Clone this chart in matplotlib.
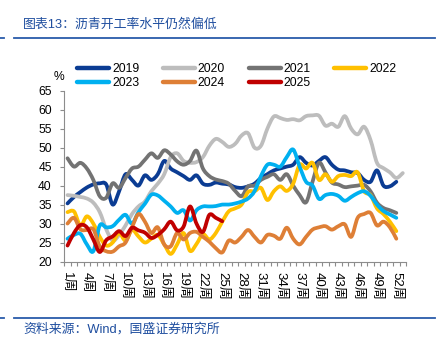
import numpy as np
import matplotlib
matplotlib.use("Agg")
import matplotlib.pyplot as plt
from matplotlib.path import Path
from matplotlib.patches import PathPatch
from matplotlib.lines import Line2D

plt.rcParams['font.family'] = ['Liberation Sans', 'Noto Sans CJK SC']

# weekly operating rate of asphalt plants (%)
weeks = list(range(1, 54))
tick_weeks = list(range(1, 53, 3))
tick_labels = [f"{w}周" for w in tick_weeks]

y2019 = [35.3, 37.0, 38.3, 39.5, 40.3, 40.6, 40.3, 35.0, 38.5, 43.0,
         41.5, 40.0, 42.7, 41.5, 43.0, 46.5, 44.5, 43.5, 42.5, 41.5,
         42.7, 40.5, 40.2, 40.8, 40.5, 40.3, 39.6, 39.4, 39.8, 40.5,
         42.0, 43.0, 44.0, 44.5, 45.0, 45.5, 47.5, 46.0, 45.3, 46.5,
         47.5, 45.5, 44.2, 44.0, 43.5, 43.3, 41.5, 41.0, 44.0, 40.0,
         39.8, 41.0]
y2020 = [37.5, 37.3, 37.0, 36.6, 35.5, 33.0, 28.5, 25.5, 27.0, 29.5,
         32.5, 34.5, 35.8, 38.5, 40.5, 43.0, 47.5, 48.5, 46.5, 46.0,
         46.2, 47.5, 50.5, 52.3, 51.5, 50.2, 51.0, 53.2, 53.8, 50.0,
         50.5, 55.0, 58.2, 57.8, 57.3, 57.5, 57.2, 58.3, 58.5, 58.4,
         55.8, 56.3, 55.5, 58.3, 55.0, 53.5, 55.5, 52.0, 46.0, 44.6,
         43.5, 42.0, 43.3]
y2021 = [47.2, 45.0, 46.0, 44.5, 41.5, 37.2, 36.8, 40.6, 39.4, 42.0,
         44.5, 45.0, 46.8, 48.5, 47.3, 49.3, 48.2, 46.4, 45.5, 46.5,
         49.2, 44.5, 42.5, 41.6, 41.2, 40.5, 38.6, 37.2, 39.8, 40.0,
         41.5, 42.3, 43.0, 41.5, 43.0, 40.0, 37.5, 35.6, 41.0, 46.0,
         43.5, 40.8, 40.3, 39.6, 39.8, 40.0, 40.2, 38.5, 35.5, 34.1,
         33.5, 32.8]
y2022 = [33.0, 33.2, 29.5, 31.9, 30.0, 26.5, 24.2, 25.0, 27.5, 25.5,
         28.3, 26.6, 25.0, 26.0, 27.0, 24.5, 22.0, 24.5, 27.5, 22.8,
         24.6, 27.2, 25.8, 27.5, 30.5, 33.2, 34.0, 35.0, 38.3, 38.5,
         39.4, 36.2, 38.5, 39.8, 38.6, 40.5, 45.5, 44.5, 46.0, 41.5,
         43.0, 41.0, 42.5, 42.8, 42.5, 43.5, 38.5, 37.5, 34.0, 32.5,
         30.5, 28.0]
y2023 = [26.0, 27.0, 27.3, 24.5, 22.7, 29.5, 29.0, 29.3, 31.0, 32.3,
         30.0, 33.0, 35.2, 37.6, 37.4, 36.0, 34.5, 32.8, 33.5, 30.8,
         33.5, 34.5, 34.5, 34.6, 35.0, 35.0, 35.3, 35.8, 36.6, 38.5,
         42.5, 45.5, 45.5, 45.0, 47.5, 49.5, 45.0, 41.0, 40.0, 36.5,
         37.5, 37.8, 37.3, 36.0, 37.0, 38.0, 38.5, 37.3, 35.0, 33.3,
         32.4, 31.5]
y2024 = [30.0, 31.5, 28.5, 28.3, 28.5, 24.0, 22.7, 22.6, 24.0, 25.0,
         29.0, 32.5, 30.5, 27.5, 29.0, 24.5, 24.0, 27.5, 25.8, 27.5,
         27.8, 26.5, 25.2, 23.5, 22.4, 25.5, 25.0, 26.5, 28.3, 26.5,
         25.0, 27.0, 26.8, 26.0, 28.9, 26.0, 24.5, 26.5, 28.4, 29.0,
         29.3, 28.4, 29.3, 29.8, 26.5, 31.5, 32.5, 32.8, 29.5, 30.5,
         29.0, 26.0]
y2025 = [24.2, 27.5, 29.6, 29.0, 25.8, 22.5, 25.6, 26.6, 28.0, 26.7,
         28.9, 28.2, 27.6, 26.2, 27.0, 28.5, 30.5, 28.2, 29.2, 34.5,
         30.0, 27.8, 32.3, 31.5, 30.6]

series = [
    ("2019", y2019, "#0B3C93"),
    ("2020", y2020, "#BDBDBD"),
    ("2021", y2021, "#737373"),
    ("2022", y2022, "#FFC000"),
    ("2023", y2023, "#00B0F0"),
    ("2024", y2024, "#DE7F36"),
    ("2025", y2025, "#C00000"),
]


def smooth_path(xs, ys):
    """Cubic Bezier path through the points (Catmull-Rom style tangents)."""
    pts = np.column_stack([xs, ys]).astype(float)
    n = len(pts)
    verts = [pts[0]]
    codes = [Path.MOVETO]
    for i in range(n - 1):
        p0 = pts[i - 1] if i > 0 else pts[i]
        p1 = pts[i]
        p2 = pts[i + 1]
        p3 = pts[i + 2] if i + 2 < n else pts[i + 1]
        verts += [p1 + (p2 - p0) / 6.0, p2 - (p3 - p1) / 6.0, p2]
        codes += [Path.CURVE4] * 3
    return Path(verts, codes)


W, H = 444, 348
fig = plt.figure(figsize=(W / 100, H / 100), dpi=100)
ax = fig.add_axes([64.3 / W, 1 - 261.5 / H, (406 - 64.3) / W, (261.5 - 90.7) / H])

lw = 2.7
for label, vals, color in series:
    xs = weeks[:len(vals)]
    patch = PathPatch(smooth_path(xs, vals), fill=False, edgecolor=color,
                      lw=lw, capstyle='round', joinstyle='round')
    ax.add_patch(patch)

ax.set_xlim(0.5, 53.5)
ax.set_ylim(20, 65)
ax.set_yticks(range(20, 66, 5))
ax.set_xticks(tick_weeks)
ax.set_xticklabels(tick_labels, rotation=-90, fontsize=9.5)
ax.set_xticks(np.arange(0.5, 54, 1.0), minor=True)
ax.tick_params(axis='x', which='major', length=0, pad=7.5)
ax.tick_params(axis='x', which='minor', length=3, width=0.8, color='#8C8C8C')
ax.tick_params(axis='y', length=3, width=0.8, color='#8C8C8C', pad=6, labelsize=8.7)
for s in ('top', 'right'):
    ax.spines[s].set_visible(False)
for s in ('left', 'bottom'):
    ax.spines[s].set_color('#8C8C8C')
    ax.spines[s].set_linewidth(0.8)

# legend: row-major order over 4 columns
handles = {lab: Line2D([], [], color=c, lw=3.2, solid_capstyle='round')
           for lab, _, c in series}
order = ["2019", "2023", "2020", "2024", "2021", "2025", "2022"]
fig.legend([handles[k] for k in order], order, ncol=4, loc='upper left',
           bbox_to_anchor=(77 / W, 1 - 63 / H), frameon=False, fontsize=8.7,
           handlelength=2.65, handletextpad=0.25, columnspacing=1.95,
           labelspacing=0.2, borderpad=0, borderaxespad=0)

fig.text(59 / W, 1 - 77 / H, "%", ha='center', va='center', fontsize=8.7)

blue = "#2A5CAA"
title_color = "#1F4E9F"
fig.text(23 / W, 1 - 25 / H, "图表13：沥青开工率水平仍然偏低", ha='left', va='center',
         fontsize=9.3, color=title_color)
fig.text(23 / W, 1 - 329 / H, "资料来源：Wind，国盛证券研究所", ha='left', va='center',
         fontsize=9.3, color=title_color)
for yy in (38, 318):
    fig.add_artist(Line2D([14 / W, 435 / W], [1 - yy / H] * 2, color=blue, lw=1.3))
    fig.add_artist(Line2D([0, 4 / W], [1 - yy / H] * 2, color=blue, lw=1.3))

fig.savefig("out.png", dpi=100)
